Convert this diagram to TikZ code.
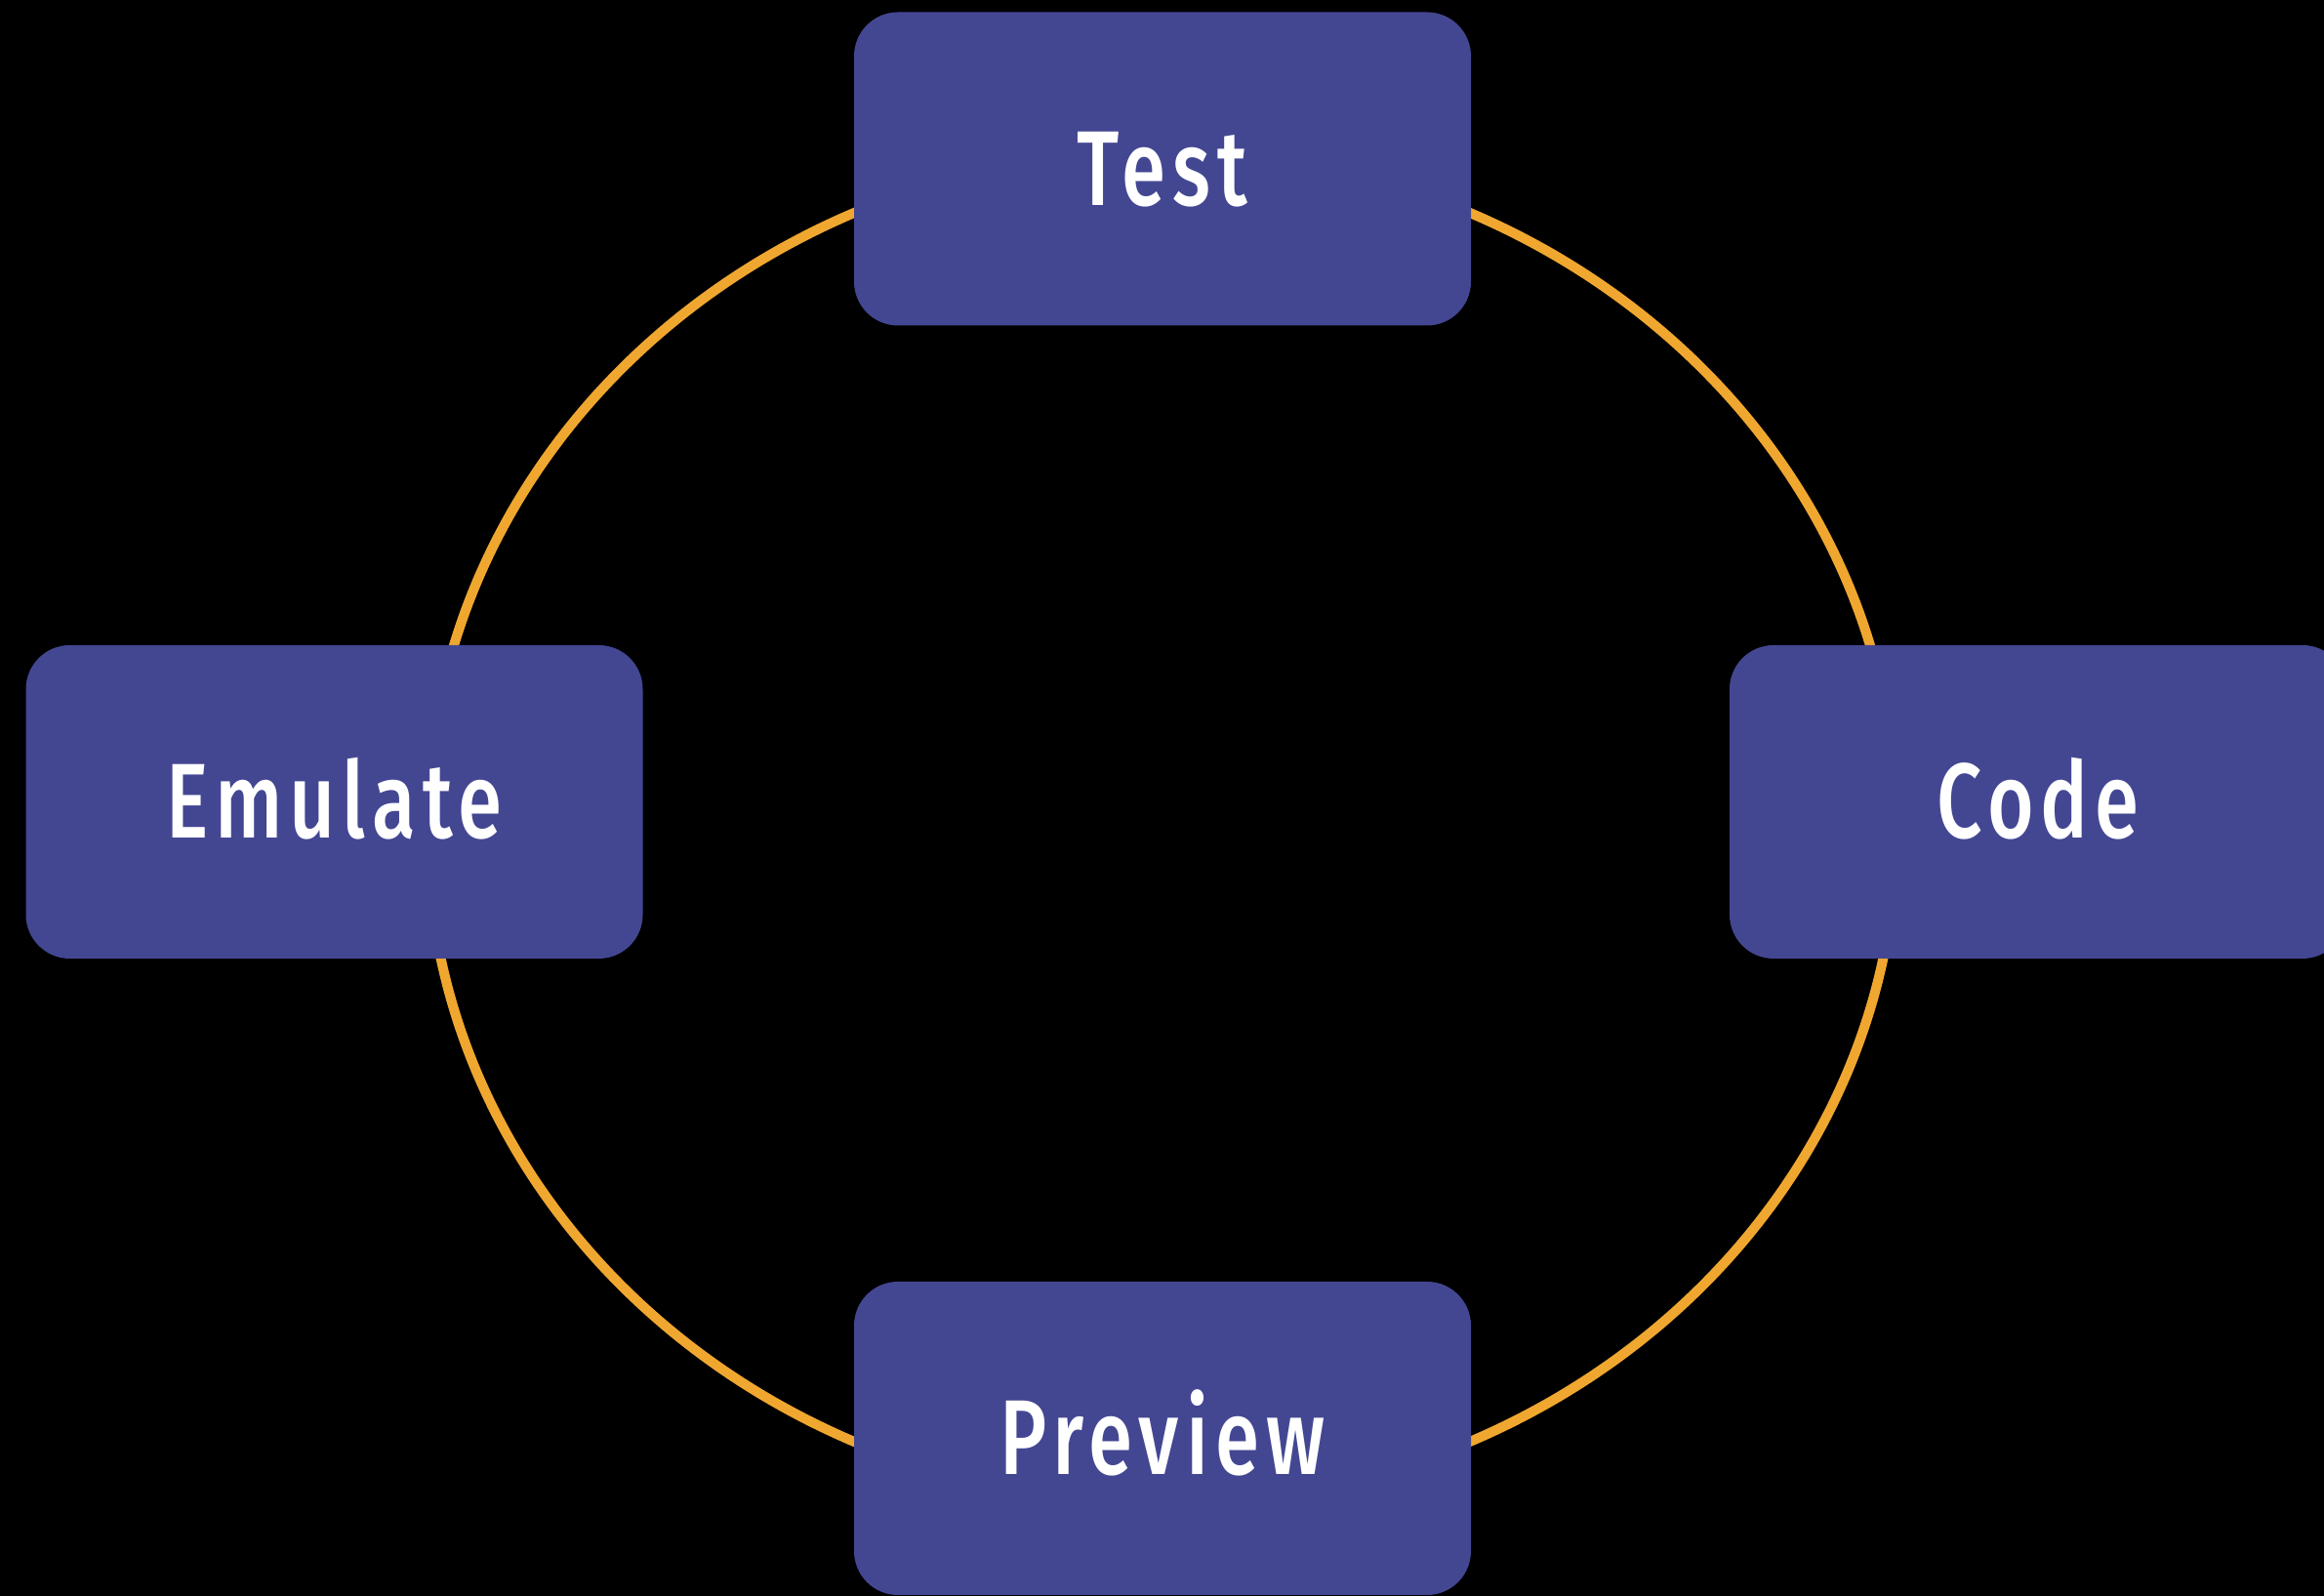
\documentclass[tikz,border=0pt]{standalone}
\usepackage{fontspec}
\setmainfont{Fira Sans}[UprightFont=* Medium,FakeStretch=0.75,LetterSpace=6.5]
\definecolor{stagefill}{RGB}{67,71,146}
\definecolor{loopline}{RGB}{240,167,48}
\begin{document}
\begin{tikzpicture}[
  stage/.style={rectangle,rounded corners=0.45cm,fill=stagefill,text=white,
    minimum width=6.32cm,minimum height=3.21cm,inner sep=0pt,
    text height=0.75cm,text depth=0pt,font=\fontsize{31}{36}\selectfont}]
\fill[black] (0,0) rectangle (23.81,16.35);
\useasboundingbox (0,0) rectangle (23.81,16.35);
\clip (0,0) rectangle (23.81,16.35);

% the cycle behind the four stages
\coordinate (loop) at (11.905,7.875);
\draw[loopline,line width=1mm] (loop) ellipse [x radius=7.53, y radius=6.93];

\node[stage] (test)    at (11.91,14.62) {Test};
\node[stage] (code)    at (20.88,8.135) {Code};
\node[stage] (preview) at (11.91,1.615) {Preview};
\node[stage] (emulate) at (3.425,8.135) {Emulate};

\end{tikzpicture}
\end{document}
